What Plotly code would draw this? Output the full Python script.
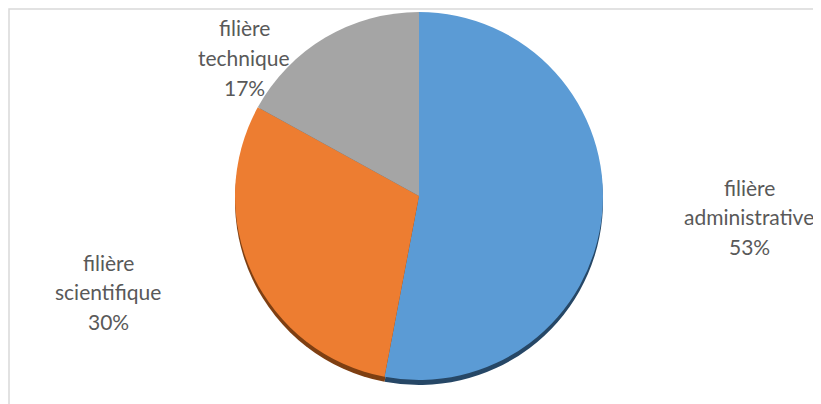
import plotly.graph_objects as go

categories = ["filière administrative", "filière scientifique", "filière technique"]
label_lines = [["filière", "administrative"], ["filière", "scientifique"], ["filière", "technique"]]
values = [53, 30, 17]
colors = ["#5B9BD5", "#ED7D31", "#A5A5A5"]
edge_colors = ["#264766", "#7E3F12", "#5f5f5f"]

# page body has an 8px margin, so the figure is 8px smaller and coordinates are offset
OFF = 8
W, H = 821 - OFF, 404 - OFF
cx, cy, r = 419 - OFF, 196 - OFF, 184

def dom(shift=0):
    return dict(x=[(cx - r) / W, (cx + r) / W],
                y=[1 - (cy + r + shift) / H, 1 - (cy - r + shift) / H])

fig = go.Figure()
# darker copy slightly lower = 3D edge
fig.add_trace(go.Pie(labels=categories, values=values, sort=False, direction="clockwise",
                     rotation=0, marker=dict(colors=edge_colors, line=dict(width=0)),
                     textinfo="none", hoverinfo="skip", showlegend=False, domain=dom(5)))
fig.add_trace(go.Pie(labels=categories, values=values, sort=False, direction="clockwise",
                     rotation=0, marker=dict(colors=colors, line=dict(width=0)),
                     textinfo="none", showlegend=False, domain=dom(0)))

# label anchor positions (page pixel centre of first line) and line spacing
label_pos = [(749, 187), (108, 262), (244, 28)]
line_gap = 29.5
total = sum(values)
for lines, v, (lx, ly) in zip(label_lines, values, label_pos):
    texts = lines + [f"{round(100 * v / total)}%"]
    for i, t in enumerate(texts):
        fig.add_annotation(x=(lx - OFF) / W, y=1 - (ly - OFF + i * line_gap) / H,
                           xref="paper", yref="paper",
                           text=t, showarrow=False, xanchor="center", yanchor="middle",
                           font=dict(family="Lato", size=21, color="#595959"))

fig.add_shape(type="rect", xref="paper", yref="paper", x0=1 / W, y0=-0.1, x1=1.1, y1=1 - 1 / H,
              line=dict(color="#D9D9D9", width=1.5), fillcolor="rgba(0,0,0,0)", layer="below")

fig.update_layout(width=W, height=H, margin=dict(l=0, r=0, t=0, b=0),
                  paper_bgcolor="white", plot_bgcolor="white")
fig.write_html("out.html")
